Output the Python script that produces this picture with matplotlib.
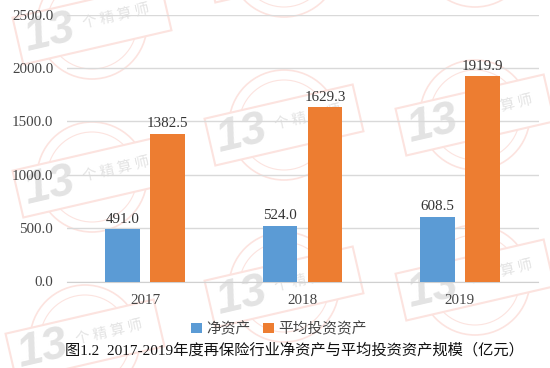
import matplotlib
matplotlib.use("Agg")
import matplotlib.pyplot as plt
from matplotlib.patches import Rectangle, Circle
import numpy as np

years = ["2017", "2018", "2019"]
net_assets = [491.0, 524.0, 608.5]
avg_invest = [1382.5, 1629.3, 1919.9]
series_names = ["净资产", "平均投资资产"]
y_ticks = [0, 500, 1000, 1500, 2000, 2500]
title = "图1.2  2017-2019年度再保险行业净资产与平均投资资产规模（亿元）"
stamp_text = "个 精 算 师"

W, H = 550, 368
SERIF = ["Liberation Serif", "Noto Sans CJK SC"]
CJK = ["Noto Sans CJK SC", "DejaVu Sans"]
MIX = ["Liberation Serif", "Noto Sans CJK SC", "DejaVu Sans"]

fig = plt.figure(figsize=(W / 100, H / 100), dpi=100, facecolor="white")

# Watermark layer, in pixel coordinates, behind the chart
bg = fig.add_axes([0, 0, 1, 1], zorder=0)
bg.set_xlim(0, W)
bg.set_ylim(H, 0)
bg.axis("off")

PINK = "#fce3df"
GREY = "#e3e3e3"
TILT = 13


def stamp(cx, cy, label=True):
    bg.add_patch(Circle((cx, cy), 55, fill=False, ec=PINK, lw=1.2))
    bg.add_patch(Circle((cx, cy), 45, fill=False, ec=PINK, lw=0.8))
    bg.add_patch(Rectangle((cx - 76, cy - 24), 152, 48, angle=-TILT,
                           rotation_point="center", fc="white", ec=PINK, lw=1.5))
    if not label:
        return
    a = np.deg2rad(TILT)
    bg.text(cx - 44 * np.cos(a), cy + 44 * np.sin(a), "13", fontsize=33, fontweight="bold",
            fontstyle="italic", color=GREY, family="Liberation Sans", rotation=TILT,
            ha="center", va="center", rotation_mode="anchor")
    bg.text(cx + 25 * np.cos(a), cy - 25 * np.sin(a) - 2, stamp_text, fontsize=10.5, color=GREY,
            family=CJK, rotation=TILT, ha="center", va="center", rotation_mode="anchor")


for cx, cy in [(92, 24), (92, 177), (284, 125), (284, 287), (475, 115), (475, 280),
               (85, 340)]:
    stamp(cx, cy)
for cx, cy in [(284, -38), (475, -48)]:
    stamp(cx, cy, label=False)

# Chart
left, right, top, bottom = 66.5, 538.5, 14.5, 281.5
ax = fig.add_axes([left / W, 1 - bottom / H, (right - left) / W, (bottom - top) / H], zorder=1)
ax.patch.set_alpha(0)

x = np.arange(len(years))
bw = 0.222
off = 0.143
b1 = ax.bar(x - off, net_assets, bw, color="#5b9bd5", label=series_names[0], zorder=3)
b2 = ax.bar(x + off, avg_invest, bw, color="#ed7d31", label=series_names[1], zorder=3)

ax.set_xlim(-0.5, 2.5)
ax.set_ylim(0, 2500)
ax.set_yticks(y_ticks)
ax.set_yticklabels([f"{v:.1f}" for v in y_ticks], family=SERIF, fontsize=10.8, color="#444444")
ax.set_xticks(x)
ax.set_xticklabels(years, family=SERIF, fontsize=10.8, color="#444444")
ax.tick_params(axis="both", length=0)
ax.tick_params(axis="x", pad=9)
ax.tick_params(axis="y", pad=9.5)
ax.grid(axis="y", color="#d9d9d9", lw=1.0, zorder=1)
ax.set_axisbelow(True)
for name, sp in ax.spines.items():
    sp.set_visible(name == "bottom")
ax.spines["bottom"].set_color("#d0d0d0")

for bars, vals in ((b1, net_assets), (b2, avg_invest)):
    for r, v in zip(bars, vals):
        ax.annotate(f"{v:.1f}", (r.get_x() + r.get_width() / 2, v), xytext=(0, 2.5),
                    textcoords="offset points", ha="center", va="bottom",
                    family=SERIF, fontsize=10.8, color="#333333", zorder=4)

leg = fig.legend(handles=[b1, b2], labels=series_names, loc="center",
                 bbox_to_anchor=(279 / W, 1 - 329 / H), ncol=2, frameon=False,
                 prop={"family": CJK, "size": 10.6}, labelcolor="#444444",
                 handlelength=0.75, handleheight=0.75, handletextpad=0.3, columnspacing=0.8)
leg.set_zorder(5)

fig.text(294 / W, 1 - 350 / H, title, ha="center", va="center", family=MIX,
         fontsize=11, color="#111111", zorder=5)

fig.savefig("out.png", dpi=100, facecolor="white")
